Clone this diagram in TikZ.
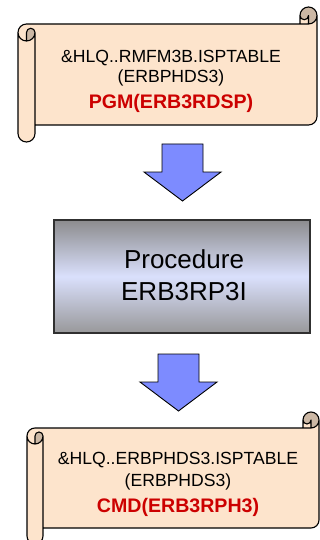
\documentclass[tikz,border=0pt]{standalone}
\usepackage{fontspec}
\setmainfont{Liberation Sans}

\definecolor{scrollfill}{RGB}{253,228,204}
\definecolor{scrollcurl}{RGB}{204,184,165}
\definecolor{arrowfill}{RGB}{125,139,255}
\definecolor{codered}{RGB}{204,0,0}
\definecolor{boxedge}{RGB}{48,48,48}
\definecolor{boxgrey}{RGB}{140,140,142}
\definecolor{boxgreylow}{RGB}{152,152,154}
\definecolor{boxlight}{RGB}{218,224,252}

% Horizontal scroll: left, top, right, bottom, roll size
\newcommand\drawscroll[5]{%
  \pgfmathsetmacro\scrL{#1}\pgfmathsetmacro\scrT{#2}%
  \pgfmathsetmacro\scrR{#3}\pgfmathsetmacro\scrB{#4}%
  \pgfmathsetmacro\scrC{#5}%
  \pgfmathsetmacro\scrH{\scrC/2}\pgfmathsetmacro\scrQ{\scrC/4}%
  \pgfmathsetmacro\scrXa{\scrL+\scrH}\pgfmathsetmacro\scrXb{\scrL+\scrC}%
  \pgfmathsetmacro\scrXc{\scrR-\scrC}\pgfmathsetmacro\scrXd{\scrR-\scrH}%
  \pgfmathsetmacro\scrYa{\scrT+\scrH}\pgfmathsetmacro\scrYb{\scrT+\scrC}%
  \pgfmathsetmacro\scrYc{\scrT+\scrC+\scrH}\pgfmathsetmacro\scrYd{\scrT+2*\scrC}%
  \pgfmathsetmacro\scrYe{\scrB-\scrC-\scrH}\pgfmathsetmacro\scrYf{\scrB-\scrC}%
  \pgfmathsetmacro\scrYg{\scrB-\scrH}%
  % sheet
  \fill[scrollfill] (\scrR,\scrYa) arc[start angle=0,delta angle=90,radius=\scrH]
    -- (\scrXd,\scrYa) arc[start angle=0,delta angle=180,radius=\scrQ]
    -- (\scrXc,\scrYb) -- (\scrXa,\scrYb)
    arc[start angle=270,delta angle=-90,radius=\scrH]
    -- (\scrL,\scrYg) arc[start angle=180,delta angle=-180,radius=\scrH]
    -- (\scrXb,\scrYf) -- (\scrXd,\scrYf)
    arc[start angle=90,delta angle=-90,radius=\scrH] -- cycle;
  % rolled ends
  \fill[scrollcurl] (\scrXa,\scrYd) arc[start angle=90,delta angle=-90,radius=\scrH]
    arc[start angle=0,delta angle=-180,radius=\scrQ] -- cycle
    (\scrXd,\scrYb) arc[start angle=90,delta angle=-270,radius=\scrH]
    arc[start angle=180,delta angle=-180,radius=\scrQ] -- cycle;
  % outline
  \draw[scrollline] (\scrL,\scrYc) arc[start angle=180,delta angle=90,radius=\scrH]
    -- (\scrXc,\scrYb) -- (\scrXc,\scrYa)
    arc[start angle=180,delta angle=180,radius=\scrH]
    -- (\scrR,\scrYe) arc[start angle=0,delta angle=90,radius=\scrH]
    -- (\scrXb,\scrYf) -- (\scrXb,\scrYg)
    arc[start angle=0,delta angle=180,radius=\scrH] -- cycle
    (\scrXc,\scrYb) -- (\scrXd,\scrYb) arc[start angle=90,delta angle=-90,radius=\scrH]
    (\scrXd,\scrYb) -- (\scrXd,\scrYa) arc[start angle=0,delta angle=180,radius=\scrQ]
    (\scrXa,\scrYd) -- (\scrXa,\scrYc) arc[start angle=180,delta angle=180,radius=\scrQ]
    arc[start angle=0,delta angle=180,radius=\scrH]
    (\scrXb,\scrYc) -- (\scrXb,\scrYf);
}

% Down block arrow: centre x, top y
\newcommand\blockdown[2]{%
  \draw[blockarrow] (#1-20.5,#2) -- (#1+20.5,#2) -- (#1+20.5,#2+28)
    -- (#1+38.5,#2+28) -- (#1,#2+57) -- (#1-38.5,#2+28)
    -- (#1-20.5,#2+28) -- cycle;
}

\begin{document}
\begin{tikzpicture}[x=1pt,y=-1pt,
  scrollline/.style={draw=black,line width=1.1pt,line join=round},
  blockarrow/.style={fill=arrowfill,draw=black,line width=0.9pt,line join=miter},
  scrolltext/.style={anchor=base,inner sep=0pt,font=\fontsize{17.6}{20}\selectfont},
  redtext/.style={anchor=base,inner sep=0pt,text=codered,font=\fontsize{19.6}{22}\selectfont\bfseries},
  procbox/.style={rectangle,draw=boxedge,line width=1.4pt,
    top color=boxgrey,bottom color=boxgreylow,middle color=boxlight,
    minimum width=256pt,minimum height=113pt,inner sep=0pt},
  proctext/.style={anchor=base,inner sep=0pt,font=\fontsize{26}{32}\selectfont}]
\useasboundingbox (0,0) rectangle (320,540);
\clip (0,0) rectangle (320,540);

% upper scroll
\drawscroll{18}{7}{317}{142}{17}
\node[scrolltext] (srcA) at (171,62.5) {\&HLQ..RMFM3B.ISPTABLE};
\node[scrolltext] (srcB) at (171,82.5) {(ERBPHDS3)};
\node[redtext] (srcC) at (171,109) {PGM(ERB3RDSP)};

% first arrow
\blockdown{182.5}{144}

% procedure box
\node[procbox] (proc) at (182,276.5) {};
\node[proctext] (procA) at (184,268) {Procedure};
\node[proctext] (procB) at (184,300) {ERB3RP3I};

% second arrow
\blockdown{178.5}{354}

% lower scroll
\drawscroll{27}{412}{319}{544}{16}
\node[scrolltext] (dstA) at (178,464.5) {\&HLQ..ERBPHDS3.ISPTABLE};
\node[scrolltext] (dstB) at (178,486.5) {(ERBPHDS3)};
\node[redtext] (dstC) at (178,512) {CMD(ERB3RPH3)};
\end{tikzpicture}
\end{document}
